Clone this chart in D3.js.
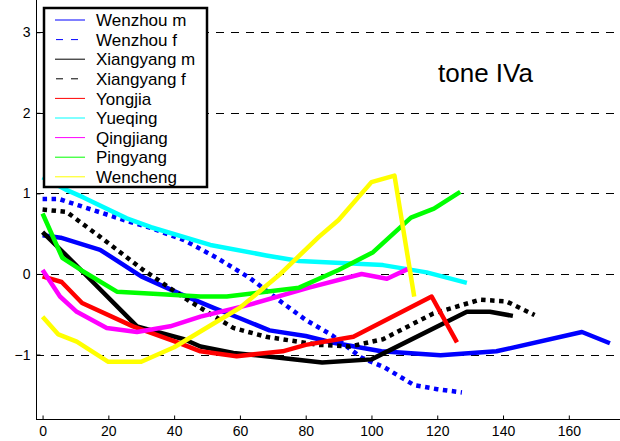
<!DOCTYPE html>
<html>
<head>
<meta charset="utf-8">
<script src="https://cdn.jsdelivr.net/npm/d3@7"></script>
<style>
  html, body { margin: 0; padding: 0; background: #fff; }
  svg { display: block; font-family: "Liberation Sans", Arial, sans-serif; }
</style>
</head>
<body>
<svg id="chart" width="620" height="441"></svg>
<script>
// Normalised pitch contours for tone IVa, [duration, z-score] pairs per dialect
const wenzhouM   = [[0,0.48],[5.5,0.45],[17.5,0.3],[30,-0.03],[42,-0.25],[52,-0.42],[60,-0.55],[69,-0.7],[80,-0.77],[88,-0.85],[103,-0.96],[121,-1.01],[138,-0.96],[164,-0.72],[172.5,-0.86]];
const wenzhouF   = [[0,0.93],[5,0.93],[11,0.85],[27,0.64],[33,0.57],[43,0.42],[53,0.2],[63,-0.05],[73,-0.36],[80,-0.57],[88,-0.76],[97,-1.04],[104,-1.16],[113,-1.38],[120,-1.43],[127.5,-1.47]];
const xiangyangM = [[0,0.52],[7.5,0.22],[28.7,-0.65],[43,-0.81],[48,-0.9],[58,-0.98],[70,-1.03],[85,-1.1],[100,-1.06],[129,-0.47],[136,-0.47],[143,-0.52]];
const xiangyangF = [[0,0.8],[7.3,0.77],[17.5,0.46],[30.6,0.05],[44,-0.32],[58,-0.67],[68,-0.78],[84,-0.88],[93.5,-0.9],[103.5,-0.81],[118.8,-0.49],[133,-0.32],[141,-0.34],[149.6,-0.51]];
const yongjia    = [[0,-0.03],[5.8,-0.1],[12,-0.36],[27.5,-0.65],[41,-0.85],[48,-0.96],[59,-1.02],[73,-0.96],[80,-0.88],[94.5,-0.78],[118.3,-0.28],[126,-0.85]];
const yueqing    = [[0,1.2],[7.4,1.04],[12.4,0.95],[25.6,0.69],[33,0.58],[51,0.36],[68,0.23],[78,0.16],[103.5,0.11],[116.8,0.02],[129,-0.11]];
const qingjiang  = [[0,0.05],[5.3,-0.28],[10.4,-0.47],[19.5,-0.67],[28.7,-0.72],[38.8,-0.65],[48,-0.53],[63,-0.38],[81,-0.17],[97,0.0],[104.7,-0.06],[111,0.06]];
const pingyang   = [[0,0.75],[6,0.2],[12,0.04],[22.6,-0.22],[35,-0.25],[48,-0.28],[56,-0.28],[66,-0.23],[78,-0.17],[90,0.05],[100.5,0.27],[112,0.7],[119,0.81],[127,1.02]];
const wencheng   = [[0,-0.53],[4.8,-0.75],[10.4,-0.84],[20,-1.09],[30,-1.09],[40,-0.91],[60,-0.42],[72,-0.01],[84,0.46],[90,0.67],[100,1.14],[107,1.22],[113,-0.28]];

const seriesNames  = ["Wenzhou m","Wenzhou f","Xiangyang m","Xiangyang f","Yongjia","Yueqing","Qingjiang","Pingyang","Wencheng"];
const seriesData   = [wenzhouM, wenzhouF, xiangyangM, xiangyangF, yongjia, yueqing, qingjiang, pingyang, wencheng];
const seriesColors = ["#0000ff","#0000ff","#000000","#000000","#ff0000","#00ffff","#ff00ff","#00ff00","#ffff00"];
const seriesDotted = [false, true, false, true, false, false, false, false, false];

const xTicks = [0,20,40,60,80,100,120,140,160];
const yTicks = [-1,0,1,2,3];
const titleText = "tone IVa";

const svg = d3.select("#chart");
const W = 620, H = 441;
const left = 36, bottom = 419;

const x = d3.scaleLinear().domain([-2, 178]).range([left, left + 592]);
const y = d3.scaleLinear().domain([-1.8, 3.4]).range([bottom, 0]);

svg.append("defs").append("clipPath").attr("id", "plotClip")
  .append("rect").attr("x", left).attr("y", 0).attr("width", W - left).attr("height", bottom);

// dashed horizontal grid at the integer levels
svg.append("g").selectAll("line").data(yTicks).join("line")
  .attr("x1", left).attr("x2", W)
  .attr("y1", d => Math.round(y(d)) + 0.5).attr("y2", d => Math.round(y(d)) + 0.5)
  .attr("stroke", "#000").attr("stroke-width", 1)
  .attr("stroke-dasharray", "8,7");

// contour lines
const line = d3.line().x(d => x(d[0])).y(d => y(d[1]));
const plot = svg.append("g").attr("clip-path", "url(#plotClip)");
seriesData.forEach((data, i) => {
  plot.append("path")
    .datum(data)
    .attr("d", line)
    .attr("fill", "none")
    .attr("stroke", seriesColors[i])
    .attr("stroke-width", 4.5)
    .attr("stroke-linejoin", "round")
    .attr("stroke-dasharray", seriesDotted[i] ? "4.5,4.5" : null);
});

// axes: left and bottom only, ticks pointing inward
const xAxis = d3.axisBottom(x).tickValues(xTicks).tickFormat(d3.format("d"))
  .tickSizeInner(-4).tickSizeOuter(0).tickPadding(7);
const yAxis = d3.axisLeft(y).tickValues(yTicks).tickFormat(d3.format("d"))
  .tickSizeInner(-4).tickSizeOuter(0).tickPadding(9);

const gx = svg.append("g").attr("transform", `translate(0,${bottom + 0.5})`).call(xAxis);
gx.select(".domain").attr("d", `M${left},0H${W}`);
const gy = svg.append("g").attr("transform", `translate(${left + 0.5},0)`).call(yAxis);
gy.select(".domain").attr("d", `M0,0V${bottom}`);

[gx, gy].forEach(g => {
  g.selectAll(".domain").attr("stroke", "#000").attr("stroke-width", 1);
  g.selectAll(".tick line").attr("stroke", "#000");
  g.selectAll(".tick text").attr("font-size", 14).attr("fill", "#000")
    .attr("font-family", "'Liberation Sans', Arial, sans-serif");
});
gy.selectAll(".tick text").attr("x", -6);

// title
svg.append("text")
  .attr("x", 438).attr("y", 82)
  .attr("font-size", 26)
  .attr("fill", "#000")
  .text(titleText);

// legend
const lg = svg.append("g");
lg.append("rect")
  .attr("x", 44).attr("y", 8).attr("width", 163).attr("height", 179)
  .attr("fill", "#fff").attr("stroke", "#000").attr("stroke-width", 2.5);
seriesNames.forEach((name, i) => {
  const cy = 20 + i * 19.6;
  lg.append("line")
    .attr("x1", 55).attr("x2", 85)
    .attr("y1", cy).attr("y2", cy)
    .attr("stroke", seriesColors[i])
    .attr("stroke-width", 1)
    .attr("stroke-dasharray", seriesDotted[i] ? "7,8" : null)
    .attr("stroke-dashoffset", seriesDotted[i] ? -1 : null);
  lg.append("text")
    .attr("x", 96).attr("y", cy)
    .attr("dy", "0.36em")
    .attr("font-size", 17)
    .attr("fill", "#000")
    .text(name);
});
</script>
</body>
</html>
